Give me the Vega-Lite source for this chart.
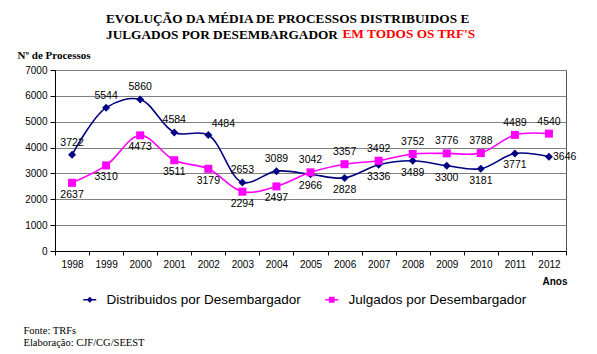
{
  "$schema": "https://vega.github.io/schema/vega-lite/v6.json",
  "width": 511,
  "height": 181,
  "autosize": {"type": "none"},
  "padding": {"left": 55, "top": 70, "right": 31, "bottom": 103},
  "background": "white",
  "title": {
    "text": "EVOLUÇÃO DA MÉDIA DE PROCESSOS DISTRIBUIDOS E",
    "subtitle": "JULGADOS POR DESEMBARGADOR",
    "font": "Liberation Serif",
    "fontSize": 13.3,
    "fontWeight": "bold",
    "color": "#000000",
    "subtitleFont": "Liberation Serif",
    "subtitleFontSize": 13.3,
    "subtitleFontWeight": "bold",
    "subtitleColor": "#000000",
    "subtitlePadding": 2,
    "anchor": "start",
    "frame": "group",
    "dx": 51,
    "dy": 19
  },
  "config": {
    "view": {"stroke": "#555555", "strokeWidth": 1},
    "legend": {
      "orient": "none", "direction": "horizontal", "title": null,
      "labelFont": "Liberation Sans", "labelFontSize": 13.5, "labelColor": "#000000", "labelLimit": 0,
      "labelOffset": 10, "symbolSize": 100, "symbolStrokeWidth": 1.6, "symbolOpacity": 1
    }
  },
  "data": {
    "values": [
      {"year": 1998, "serie": "Distribuidos por Desembargador", "value": 3722},
      {"year": 1999, "serie": "Distribuidos por Desembargador", "value": 5544},
      {"year": 2000, "serie": "Distribuidos por Desembargador", "value": 5860},
      {"year": 2001, "serie": "Distribuidos por Desembargador", "value": 4584},
      {"year": 2002, "serie": "Distribuidos por Desembargador", "value": 4484},
      {"year": 2003, "serie": "Distribuidos por Desembargador", "value": 2653},
      {"year": 2004, "serie": "Distribuidos por Desembargador", "value": 3089},
      {"year": 2005, "serie": "Distribuidos por Desembargador", "value": 2966},
      {"year": 2006, "serie": "Distribuidos por Desembargador", "value": 2828},
      {"year": 2007, "serie": "Distribuidos por Desembargador", "value": 3336},
      {"year": 2008, "serie": "Distribuidos por Desembargador", "value": 3489},
      {"year": 2009, "serie": "Distribuidos por Desembargador", "value": 3300},
      {"year": 2010, "serie": "Distribuidos por Desembargador", "value": 3181},
      {"year": 2011, "serie": "Distribuidos por Desembargador", "value": 3771},
      {"year": 2012, "serie": "Distribuidos por Desembargador", "value": 3646},
      {"year": 1998, "serie": "Julgados por Desembargador", "value": 2637},
      {"year": 1999, "serie": "Julgados por Desembargador", "value": 3310},
      {"year": 2000, "serie": "Julgados por Desembargador", "value": 4473},
      {"year": 2001, "serie": "Julgados por Desembargador", "value": 3511},
      {"year": 2002, "serie": "Julgados por Desembargador", "value": 3179},
      {"year": 2003, "serie": "Julgados por Desembargador", "value": 2294},
      {"year": 2004, "serie": "Julgados por Desembargador", "value": 2497},
      {"year": 2005, "serie": "Julgados por Desembargador", "value": 3042},
      {"year": 2006, "serie": "Julgados por Desembargador", "value": 3357},
      {"year": 2007, "serie": "Julgados por Desembargador", "value": 3492},
      {"year": 2008, "serie": "Julgados por Desembargador", "value": 3752},
      {"year": 2009, "serie": "Julgados por Desembargador", "value": 3776},
      {"year": 2010, "serie": "Julgados por Desembargador", "value": 3788},
      {"year": 2011, "serie": "Julgados por Desembargador", "value": 4489},
      {"year": 2012, "serie": "Julgados por Desembargador", "value": 4540}
    ]
  },
  "resolve": {"axis": {"x": "independent", "y": "independent"}},
  "layer": [
    {
      "mark": {"type": "line", "interpolate": "catmull-rom", "strokeWidth": 1.6},
      "encoding": {
        "x": {
          "field": "year", "type": "ordinal",
          "scale": {"type": "band", "paddingInner": 0, "paddingOuter": 0},
          "axis": {
            "title": "Anos", "titleFont": "Liberation Sans", "titleFontSize": 10, "titleFontWeight": "bold",
            "titleAlign": "right", "titleBaseline": "alphabetic", "titleX": 512, "titleY": 33, "titleColor": "#000000",
            "labelAngle": 0, "labelFont": "Liberation Sans", "labelFontSize": 10, "labelColor": "#000000",
            "tickBand": "extent", "tickSize": 4, "tickColor": "#000000", "domainColor": "#000000",
            "labelPadding": 4, "grid": false
          }
        },
        "y": {
          "field": "value", "type": "quantitative",
          "scale": {"domain": [0, 7000]},
          "axis": {
            "title": "Nº de Processos", "titleFont": "Liberation Serif", "titleFontSize": 11, "titleFontWeight": "bold",
            "titleAngle": 0, "titleAlign": "left", "titleBaseline": "alphabetic", "titleX": -38, "titleY": -12, "titleColor": "#000000",
            "values": [0, 1000, 2000, 3000, 4000, 5000, 6000, 7000], "format": "d",
            "labelFont": "Liberation Sans", "labelFontSize": 10, "labelColor": "#000000", "labelPadding": 3,
            "tickSize": 5, "tickColor": "#000000", "domainColor": "#000000",
            "grid": true, "gridColor": "#808080"
          }
        },
        "color": {
          "field": "serie", "type": "nominal",
          "scale": {"domain": ["Distribuidos por Desembargador", "Julgados por Desembargador"], "range": ["#000080", "#FF00FF"]},
          "legend": {
            "values": ["Distribuidos por Desembargador"],
            "legendX": 28, "legendY": 223,
            "symbolType": "M-1.3,0H1.3M0,-0.38L0.38,0L0,0.38L-0.38,0Z",
            "symbolFillColor": "#000080", "symbolStrokeColor": "#000080"
          }
        }
      }
    },
    {
      "mark": {"type": "point", "filled": true, "size": 64, "opacity": 1},
      "encoding": {
        "x": {"field": "year", "type": "ordinal", "scale": {"type": "band", "paddingInner": 0, "paddingOuter": 0}, "axis": null},
        "y": {"field": "value", "type": "quantitative", "axis": null},
        "fill": {
          "field": "serie", "type": "nominal",
          "scale": {"domain": ["Julgados por Desembargador", "Distribuidos por Desembargador"], "range": ["#FF00FF", "#000080"]},
          "legend": {
            "values": ["Julgados por Desembargador"],
            "legendX": 270, "legendY": 223,
            "symbolType": "M-1.3,0H1.3M-0.42,-0.42H0.42V0.42H-0.42Z",
            "symbolFillColor": "#FF00FF", "symbolStrokeColor": "#FF00FF"
          }
        },
        "shape": {
          "field": "serie", "type": "nominal",
          "scale": {"domain": ["Distribuidos por Desembargador", "Julgados por Desembargador", "-"], "range": ["diamond", "square", "circle"]},
          "legend": null
        }
      }
    },
    {
      "transform": [
        {"joinaggregate": [{"op": "max", "field": "value", "as": "maxv"}], "groupby": ["year"]},
        {"filter": "datum.value >= datum.maxv && !(datum.year == 2002 && datum.serie == 'Distribuidos por Desembargador')"}
      ],
      "mark": {"type": "text", "font": "Liberation Sans", "fontSize": 10.5, "dy": -12, "color": "#000000"},
      "encoding": {
        "x": {
          "field": "year", "type": "ordinal", "scale": {"type": "band", "paddingInner": 0, "paddingOuter": 0},
          "axis": {
            "orient": "top", "title": "EM TODOS OS TRF'S", "titleColor": "#FF0000", "titleFont": "Liberation Serif",
            "titleFontSize": 13.3, "titleFontWeight": "bold", "titleX": 287, "titleY": -33, "titleAlign": "left",
            "titleBaseline": "alphabetic", "labels": false, "ticks": false, "domain": false, "grid": false
          }
        },
        "y": {"field": "value", "type": "quantitative", "axis": null},
        "text": {"field": "value", "type": "quantitative", "format": "d"}
      }
    },
    {
      "transform": [
        {"filter": "datum.year == 2002 && datum.serie == 'Distribuidos por Desembargador'"}
      ],
      "mark": {"type": "text", "font": "Liberation Sans", "fontSize": 10.5, "dx": 15, "dy": -11, "color": "#000000"},
      "encoding": {
        "x": {"field": "year", "type": "ordinal", "scale": {"type": "band", "paddingInner": 0, "paddingOuter": 0}, "axis": null},
        "y": {"field": "value", "type": "quantitative", "axis": null},
        "text": {"field": "value", "type": "quantitative", "format": "d"}
      }
    },
    {
      "transform": [
        {"filter": "datum.year == 2012 && datum.serie == 'Distribuidos por Desembargador'"}
      ],
      "mark": {"type": "text", "font": "Liberation Sans", "fontSize": 10.5, "align": "left", "dx": 4, "dy": 0, "color": "#000000"},
      "encoding": {
        "x": {"field": "year", "type": "ordinal", "scale": {"type": "band", "paddingInner": 0, "paddingOuter": 0}, "axis": null},
        "y": {"field": "value", "type": "quantitative", "axis": null},
        "text": {"field": "value", "type": "quantitative", "format": "d"}
      }
    },
    {
      "transform": [
        {"joinaggregate": [{"op": "max", "field": "value", "as": "maxv"}], "groupby": ["year"]},
        {"filter": "datum.value < datum.maxv && !(datum.year == 2012 && datum.serie == 'Distribuidos por Desembargador')"}
      ],
      "mark": {"type": "text", "font": "Liberation Sans", "fontSize": 10.5, "dy": 12, "color": "#000000"},
      "encoding": {
        "x": {"field": "year", "type": "ordinal", "scale": {"type": "band", "paddingInner": 0, "paddingOuter": 0}, "axis": null},
        "y": {
          "field": "value", "type": "quantitative",
          "axis": {
            "orient": "right", "title": ["Fonte: TRFs", "Elaboração: CJF/CG/SEEST"], "titleFont": "Liberation Serif",
            "titleFontSize": 10.5, "titleFontWeight": "normal", "titleColor": "#000000", "titleAngle": 0, "titleAlign": "left",
            "titleBaseline": "alphabetic", "titleX": -543, "titleY": 263, "titleLineHeight": 12,
            "labels": false, "ticks": false, "domain": false, "grid": false
          }
        },
        "text": {"field": "value", "type": "quantitative", "format": "d"}
      }
    }
  ]
}
